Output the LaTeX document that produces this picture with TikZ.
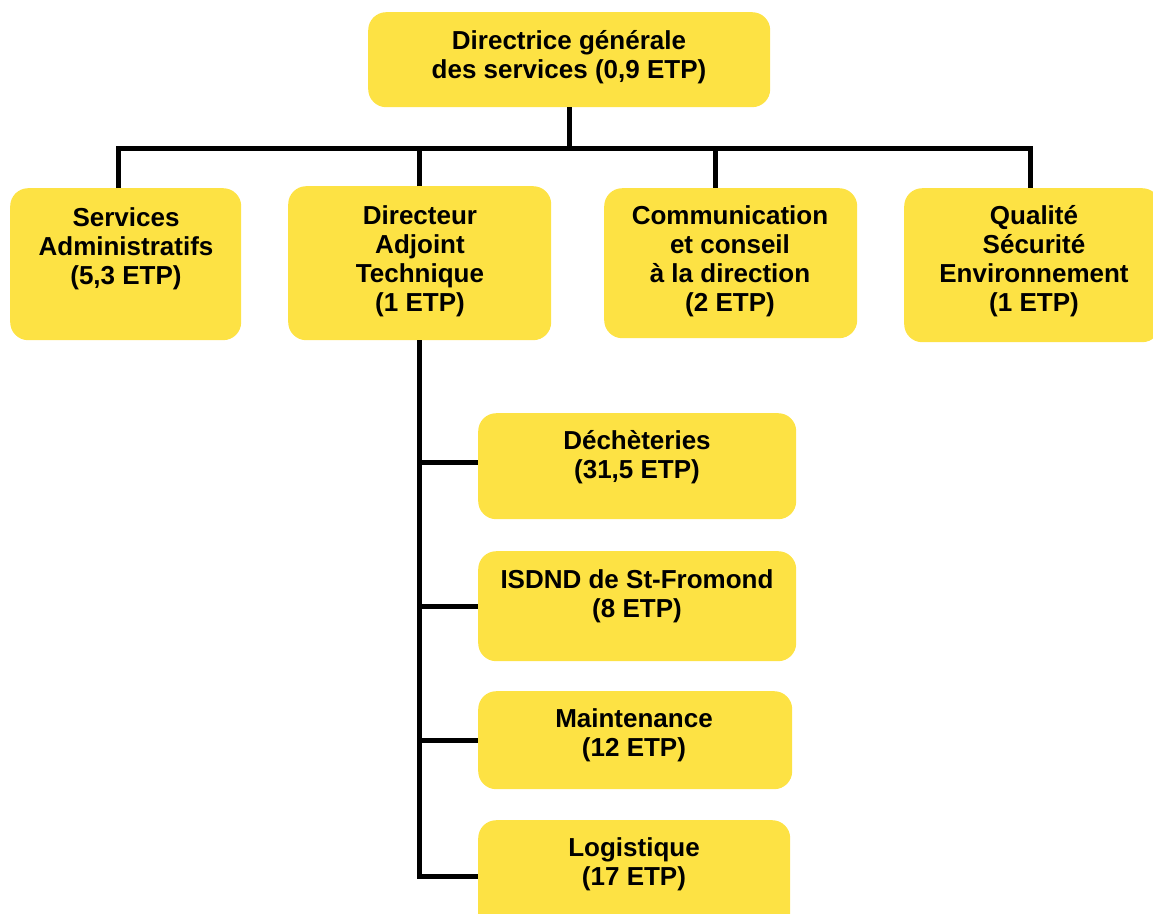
\documentclass[tikz,border=0pt]{standalone}
\usepackage{fontspec}
\setmainfont{Liberation Sans}
\definecolor{boxyellow}{HTML}{FDE244}
\begin{document}
\begin{tikzpicture}[x=1pt,y=-1pt,
  box/.style={fill=boxyellow, draw=none, rounded corners=18pt, anchor=north west, inner sep=0pt},
  txt/.style={anchor=north, align=center, inner sep=0pt, font=\fontsize{26}{29}\selectfont\bfseries},
  conn/.style={draw=black, line width=5pt, line join=miter}]
\useasboundingbox (0,0) rectangle (1153,913);
% boxes
\node[box, minimum width=402pt, minimum height=95pt] (top) at (368,12) {};
\node[box, minimum width=231pt, minimum height=152pt] (adm) at (10,188) {};
\node[box, minimum width=263pt, minimum height=154pt] (dat) at (288,186) {};
\node[box, minimum width=253pt, minimum height=150pt] (com) at (604,188) {};
\node[box, minimum width=256pt, minimum height=154pt] (qse) at (904,188) {};
\node[box, minimum width=318pt, minimum height=106pt] (dech) at (478,413) {};
\node[box, minimum width=318pt, minimum height=110pt] (isdnd) at (478,551) {};
\node[box, minimum width=314pt, minimum height=98pt] (maint) at (478,691) {};
\node[box, minimum width=312pt, minimum height=112pt] (logi) at (478,820) {};
% texts
\node[txt] (ttop) at (569,30) {Directrice générale\\des services (0,9 ETP)};
\node[txt] (tadm) at (126,207) {Services\\Administratifs\\(5,3 ETP)};
\node[txt] (tdat) at (420,205) {Directeur\\Adjoint\\Technique\\(1 ETP)};
\node[txt] (tcom) at (730,205) {Communication\\et conseil\\à la direction\\(2 ETP)};
\node[txt] (tqse) at (1034,205) {Qualité\\Sécurité\\Environnement\\(1 ETP)};
\node[txt] (tdech) at (637,430) {Déchèteries\\(31,5 ETP)};
\node[txt] (tisdnd) at (637,569) {ISDND de St-Fromond\\(8 ETP)};
\node[txt] (tmaint) at (634,708) {Maintenance\\(12 ETP)};
\node[txt] (tlogi) at (634,837) {Logistique\\(17 ETP)};
% connectors
\coordinate (dA) at (118,148);
\coordinate (dC) at (715,148);
\coordinate (dQ) at (1030,148);
\coordinate (jD) at (420,462);
\draw[conn] (dA |- adm.north) -- (dA) -- (dQ) -- (dQ |- qse.north);
\draw[conn] (top.south) -- (top.south |- dA);
\draw[conn] (dat.north) -- (dat.north |- dA);
\draw[conn] (dC) -- (dC |- com.north);
\draw[conn] (dat.south) -- (dat.south |- logi.west) -- (logi.west);
\draw[conn] (dat.south |- jD) -- (jD -| dech.west);
\draw[conn] (dat.south |- isdnd.west) -- (isdnd.west);
\draw[conn] (dat.south |- maint.west) -- (maint.west);
\end{tikzpicture}
\end{document}
